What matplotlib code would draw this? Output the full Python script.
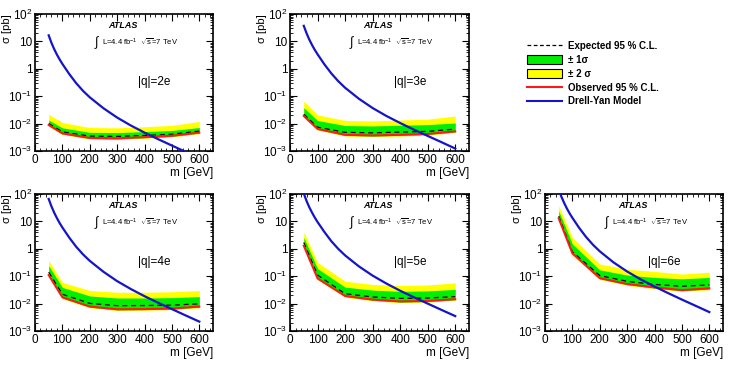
import matplotlib
matplotlib.use("Agg")
import matplotlib.pyplot as plt
import matplotlib.ticker as mticker
from matplotlib.lines import Line2D
from matplotlib.patches import Patch

plt.rcParams['font.family'] = ['Liberation Sans', 'DejaVu Sans']
plt.rcParams['mathtext.fontset'] = 'custom'
plt.rcParams['mathtext.rm'] = 'Liberation Sans'
plt.rcParams['mathtext.it'] = 'Liberation Sans:italic'
plt.rcParams['mathtext.bf'] = 'Liberation Sans:bold'

# ---------------- data ----------------
masses = [50, 100, 200, 300, 400, 500, 600]
dy_mass = [50, 60, 70, 80, 90, 100, 125, 150, 175, 200, 250, 300, 350, 400, 450, 500, 550, 600]

charges = ['|q|=2e', '|q|=3e', '|q|=4e', '|q|=5e', '|q|=6e']

obs = {
    '2e': [8.9e-3, 4.4e-3, 3.0e-3, 2.9e-3, 3.2e-3, 3.6e-3, 4.7e-3],
    '3e': [1.9e-2, 6.4e-3, 3.9e-3, 3.7e-3, 3.9e-3, 4.2e-3, 5.2e-3],
    '4e': [0.11, 1.7e-2, 7.8e-3, 6.2e-3, 6.3e-3, 6.6e-3, 7.8e-3],
    '5e': [1.3, 8.3e-2, 1.9e-2, 1.4e-2, 1.2e-2, 1.25e-2, 1.45e-2],
    '6e': [13.0, 0.68, 8.5e-2, 5.2e-2, 3.9e-2, 3.1e-2, 3.6e-2],
}
exp_ = {
    '2e': [1.0e-2, 5.0e-3, 3.5e-3, 3.4e-3, 3.7e-3, 4.1e-3, 5.3e-3],
    '3e': [2.2e-2, 7.4e-3, 4.8e-3, 4.6e-3, 4.9e-3, 5.2e-3, 6.3e-3],
    '4e': [0.14, 2.2e-2, 1.02e-2, 8.4e-3, 8.5e-3, 8.8e-3, 9.8e-3],
    '5e': [1.7, 0.11, 2.3e-2, 1.75e-2, 1.55e-2, 1.6e-2, 1.8e-2],
    '6e': [15.5, 0.78, 0.105, 6.5e-2, 5.0e-2, 4.3e-2, 4.8e-2],
}
p1s = {
    '2e': [1.35e-2, 7.0e-3, 4.8e-3, 4.7e-3, 5.1e-3, 5.6e-3, 7.2e-3],
    '3e': [3.8e-2, 1.3e-2, 8.5e-3, 8.2e-3, 8.7e-3, 9.2e-3, 1.05e-2],
    '4e': [0.24, 3.9e-2, 1.9e-2, 1.6e-2, 1.6e-2, 1.65e-2, 1.8e-2],
    '5e': [2.6, 0.19, 4.0e-2, 3.1e-2, 2.8e-2, 2.9e-2, 3.3e-2],
    '6e': [24.0, 1.5, 0.17, 0.11, 9.0e-2, 8.0e-2, 9.0e-2],
}
p2s = {
    '2e': [2.2e-2, 1.1e-2, 7.2e-3, 7.0e-3, 7.7e-3, 8.6e-3, 1.2e-2],
    '3e': [6.6e-2, 2.1e-2, 1.3e-2, 1.25e-2, 1.35e-2, 1.45e-2, 1.9e-2],
    '4e': [0.37, 6.0e-2, 3.0e-2, 2.6e-2, 2.6e-2, 2.7e-2, 3.0e-2],
    '5e': [4.1, 0.32, 6.6e-2, 5.0e-2, 4.6e-2, 4.8e-2, 5.7e-2],
    '6e': [37.0, 2.6, 0.28, 0.18, 0.15, 0.12, 0.14],
}
m1s = {
    '2e': [8.5e-3, 4.2e-3, 2.85e-3, 2.75e-3, 3.05e-3, 3.4e-3, 4.5e-3],
    '3e': [1.8e-2, 6.1e-3, 3.7e-3, 3.5e-3, 3.7e-3, 4.0e-3, 4.95e-3],
    '4e': [0.104, 1.6e-2, 7.4e-3, 5.9e-3, 6.0e-3, 6.3e-3, 7.4e-3],
    '5e': [1.23, 7.9e-2, 1.8e-2, 1.33e-2, 1.14e-2, 1.19e-2, 1.38e-2],
    '6e': [12.3, 0.64, 8.0e-2, 4.9e-2, 3.7e-2, 2.95e-2, 3.4e-2],
}
m2s = {
    '2e': [8.0e-3, 4.0e-3, 2.7e-3, 2.6e-3, 2.9e-3, 3.25e-3, 4.3e-3],
    '3e': [1.7e-2, 5.8e-3, 3.5e-3, 3.35e-3, 3.5e-3, 3.8e-3, 4.7e-3],
    '4e': [0.098, 1.5e-2, 7.0e-3, 5.6e-3, 5.7e-3, 6.0e-3, 7.0e-3],
    '5e': [1.16, 7.5e-2, 1.7e-2, 1.26e-2, 1.08e-2, 1.13e-2, 1.31e-2],
    '6e': [11.6, 0.60, 7.6e-2, 4.6e-2, 3.5e-2, 2.8e-2, 3.2e-2],
}
drell_yan = {
    '2e': [16.6, 8.9, 5.25, 3.3, 2.19, 1.51, 0.646, 0.302, 0.158, 0.0912, 0.0363, 0.0166,
           0.00851, 0.00468, 0.00269, 0.00158, 0.00093, 0.00055],
    '3e': [37, 20, 11.7, 7.4, 4.9, 3.4, 1.45, 0.68, 0.355, 0.204, 0.081, 0.037,
           0.019, 0.0105, 0.0060, 0.00355, 0.0021, 0.00123],
    '4e': [66, 35.5, 20.9, 13.2, 8.7, 6.0, 2.57, 1.2, 0.63, 0.363, 0.145, 0.066,
           0.034, 0.0186, 0.0107, 0.0063, 0.0037, 0.0022],
    '5e': [105, 56, 33, 21, 13.8, 9.5, 4.1, 1.9, 1.0, 0.575, 0.229, 0.105,
           0.054, 0.0295, 0.017, 0.010, 0.0059, 0.0035],
    '6e': [148, 79, 47, 29.5, 19.5, 13.5, 5.75, 2.7, 1.41, 0.81, 0.32, 0.148,
           0.076, 0.042, 0.024, 0.014, 0.0083, 0.0049],
}

y_ticks = [1e-3, 1e-2, 1e-1, 1, 10, 100]
y_tick_labels = ['10$^{-3}$', '10$^{-2}$', '10$^{-1}$', '1', '10', '10$^{2}$']
x_ticks = [0, 100, 200, 300, 400, 500, 600]

# ---------------- layout ----------------
W, H = 730, 365
fig = plt.figure(figsize=(7.3, 3.65), dpi=100)

panel_px = [  # left, top, width, height in pixels
    (35, 14, 178, 137),
    (290, 14, 179, 137),
    (35, 194, 178, 137),
    (290, 194, 179, 137),
    (545, 194, 178, 137),
]

GREEN = '#00ee00'
YELLOW = '#ffff00'
RED = '#ff1a1a'
BLUE = '#1414c8'

keys = ['2e', '3e', '4e', '5e', '6e']
for key, lab, (l, t, w, h) in zip(keys, charges, panel_px):
    ax = fig.add_axes([l / W, 1 - (t + h) / H, w / W, h / H])
    ax.set_yscale('log')
    ax.fill_between(masses, m2s[key], p2s[key], color=YELLOW, lw=0, zorder=1)
    ax.fill_between(masses, m1s[key], p1s[key], color=GREEN, lw=0, zorder=2)
    ax.plot(masses, exp_[key], color='black', ls=(0, (4, 3)), lw=0.9, zorder=3)
    ax.plot(masses, obs[key], color=RED, lw=1.5, zorder=4)
    ax.plot(dy_mass, drell_yan[key], color=BLUE, lw=1.6, zorder=5)
    ax.set_xlim(0, 650)
    ax.set_ylim(1e-3, 1e2)
    ax.set_yticks(y_ticks)
    ax.set_yticklabels(y_tick_labels)
    ax.yaxis.set_minor_locator(mticker.LogLocator(base=10, subs=range(2, 10), numticks=20))
    ax.yaxis.set_minor_formatter(mticker.NullFormatter())
    ax.set_xticks(x_ticks)
    ax.xaxis.set_minor_locator(mticker.MultipleLocator(20))
    ax.tick_params(which='both', direction='in', top=True, right=True,
                   labelsize=8.5, pad=2)
    ax.tick_params(which='major', length=5, width=0.8)
    ax.tick_params(which='minor', length=2.5, width=0.6)
    for s in ax.spines.values():
        s.set_linewidth(1.2)
    ax.set_xlabel('m [GeV]', fontsize=8.5, loc='right', labelpad=1)
    ax.set_ylabel('σ [pb]', fontsize=8, loc='top')
    ax.yaxis.set_label_coords(-0.128, 1.0)
    ax.text(0.41, 0.915, 'ATLAS', transform=ax.transAxes, fontsize=6.5,
            fontweight='bold', fontstyle='italic', va='center', ha='left')
    ax.text(0.33, 0.79, r'$\int$', transform=ax.transAxes, fontsize=9,
            va='center', ha='left')
    ax.text(0.375, 0.79, r'L=4.4 fb$^{-1}$  $\sqrt{\rm s}$=7 TeV', transform=ax.transAxes,
            fontsize=5.5, va='center', ha='left')
    ax.text(0.58, 0.50, lab, transform=ax.transAxes, fontsize=8.5,
            va='center', ha='left')

handles = [
    Line2D([], [], color='black', ls=(0, (3, 2)), lw=0.9),
    Patch(facecolor=GREEN, edgecolor='black', lw=0.8),
    Patch(facecolor=YELLOW, edgecolor='black', lw=0.8),
    Line2D([], [], color=RED, lw=1.5),
    Line2D([], [], color=BLUE, lw=1.5),
]
labels = ['Expected 95 % C.L.', '± 1σ', '± 2 σ', 'Observed 95 % C.L.', 'Drell-Yan Model']
leg = fig.legend(handles, labels, loc='upper left',
                 bbox_to_anchor=(522 / W, 1 - 36 / H), frameon=False,
                 prop={'size': 7, 'weight': 'bold'}, handlelength=3.6,
                 handleheight=1.0, handletextpad=0.6, labelspacing=0.4,
                 borderpad=0)

fig.savefig('out.png', dpi=100)
